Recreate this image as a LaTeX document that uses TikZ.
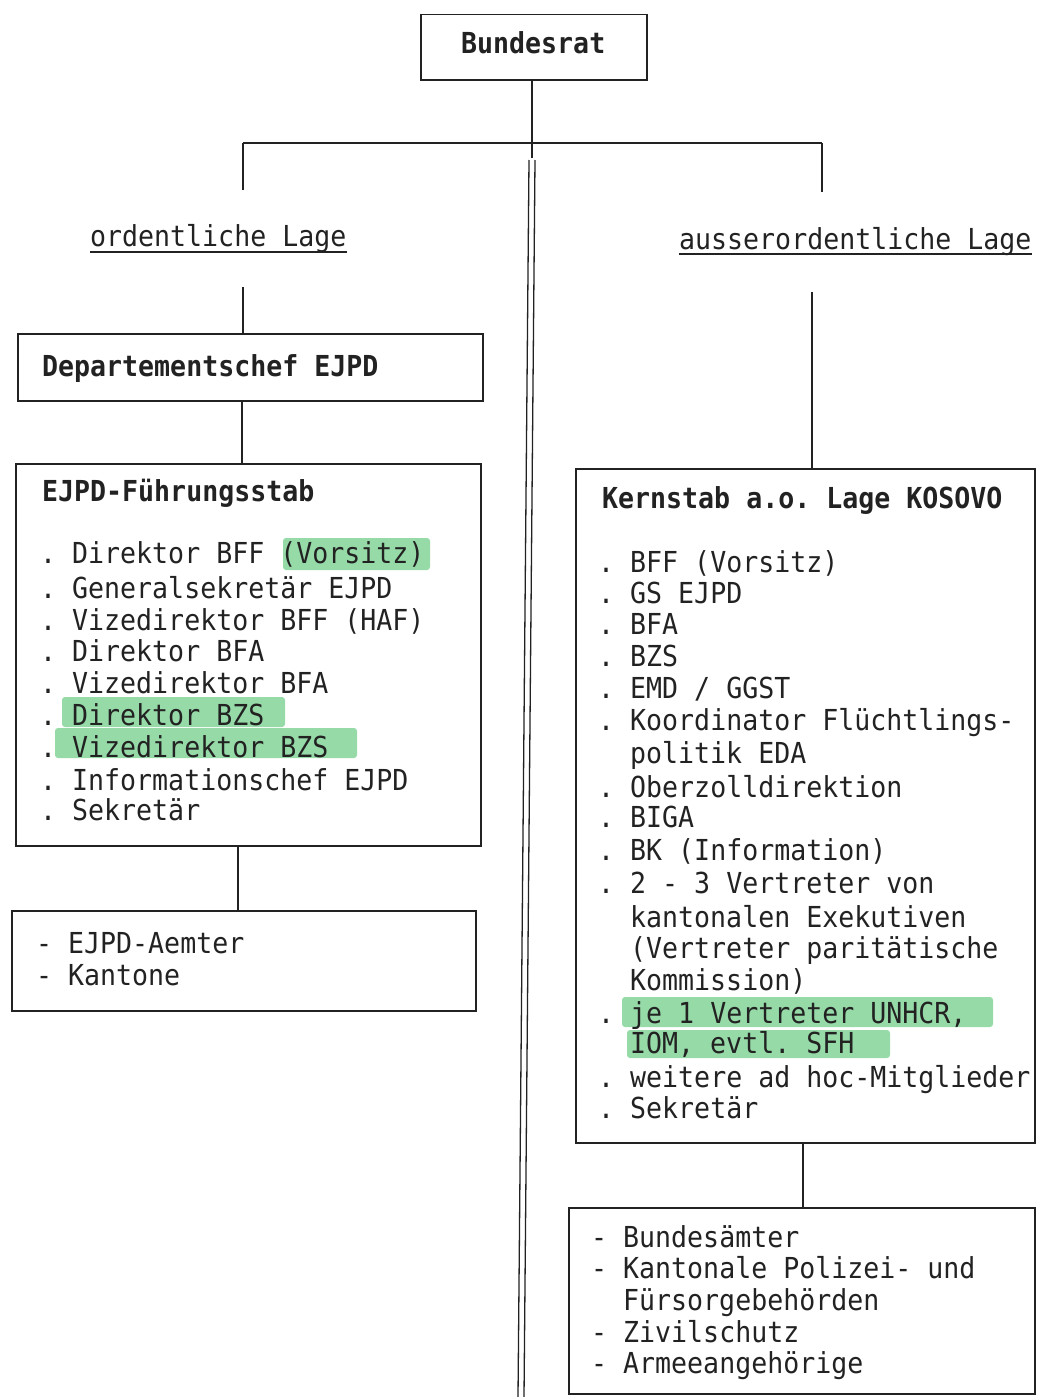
\documentclass[tikz,border=0pt]{standalone}
\usepackage{fontspec}
\setmonofont[FakeStretch=0.92]{DejaVu Sans Mono}
\usetikzlibrary{calc}
\definecolor{ink}{HTML}{222222}
\definecolor{hl}{RGB}{150,218,168}
\begin{document}
\begin{tikzpicture}[x=1pt,y=-1pt,
  box/.style={draw=ink, line width=1.5pt, rectangle, inner sep=0pt, anchor=north west},
  txt/.style={anchor=base west, inner sep=0pt, text=ink,
    font=\ttfamily\frenchspacing\fontsize{28.9}{32}\selectfont},
  ttl/.style={txt, font=\ttfamily\bfseries\frenchspacing\fontsize{28.9}{32}\selectfont},
  conn/.style={draw=ink, line width=1.5pt},
  marker/.style={fill=hl, draw=none, rounded corners=3pt}]
\useasboundingbox (0,0) rectangle (1036,1397);

% highlights
\fill[marker] (283,538) rectangle (430,570);
\fill[marker] (62,697) rectangle (285,727);
\fill[marker] (55,728) rectangle (357,758);
\fill[marker] (622,997) rectangle (993,1027);
\fill[marker] (627,1030) rectangle (890,1058);

% boxes
\node[box, minimum width=226pt, minimum height=65pt] (bund) at (420,14) {};
\node[box, minimum width=465pt, minimum height=67pt] (dep) at (17,333) {};
\node[box, minimum width=465pt, minimum height=382pt] (fst) at (15,463) {};
\node[box, minimum width=464pt, minimum height=100pt] (lb) at (11,910) {};
\node[box, minimum width=459pt, minimum height=674pt] (kern) at (575,468) {};
\node[box, minimum width=466pt, minimum height=186pt] (rb) at (568,1207) {};

% titles
\node[ttl] (bundt) at (461,54) {Bundesrat};
\node[ttl] (dept) at (42,376) {Departementschef EJPD};
\node[ttl] (fstt) at (42,501) {EJPD-Führungsstab};
\node[ttl] (kernt) at (602,508) {Kernstab a.o. Lage KOSOVO};

% labels
\node[txt] (lordl) at (90,246) {ordentliche Lage};
\node[txt] (laol) at (679,249) {ausserordentliche Lage};
\draw[conn, line width=1.3pt] ($(lordl.base west)+(0,6)$) -- ($(lordl.base east)+(0,6)$);
\draw[conn, line width=1.3pt] ($(laol.base west)+(0,5)$) -- ($(laol.base east)+(0,5)$);

% left list
\node[txt] (l1) at (40,563) {.\ Direktor BFF (Vorsitz)};
\node[txt] (l2) at (40,598) {.\ Generalsekretär EJPD};
\node[txt] (l3) at (40,630) {.\ Vizedirektor BFF (HAF)};
\node[txt] (l4) at (40,661) {.\ Direktor BFA};
\node[txt] (l5) at (40,693) {.\ Vizedirektor BFA};
\node[txt] (l6) at (40,725) {.\ Direktor BZS};
\node[txt] (l7) at (40,757) {.\ Vizedirektor BZS};
\node[txt] (l8) at (40,790) {.\ Informationschef EJPD};
\node[txt] (l9) at (40,820) {.\ Sekretär};

% bottom-left list
\node[txt] (lb1) at (36,953) {-\ EJPD-Aemter};
\node[txt] (lb2) at (36,985) {-\ Kantone};

% right list
\node[txt] (r1) at (598,572) {.\ BFF (Vorsitz)};
\node[txt] (r2) at (598,603) {.\ GS EJPD};
\node[txt] (r3) at (598,634) {.\ BFA};
\node[txt] (r4) at (598,666) {.\ BZS};
\node[txt] (r5) at (598,698) {.\ EMD / GGST};
\node[txt] (r6) at (598,730) {.\ Koordinator Flüchtlings-};
\node[txt] (r6b) at (630,763) {politik EDA};
\node[txt] (r7) at (598,797) {.\ Oberzolldirektion};
\node[txt] (r8) at (598,827) {.\ BIGA};
\node[txt] (r9) at (598,860) {.\ BK (Information)};
\node[txt] (r10) at (598,893) {.\ 2 - 3 Vertreter von};
\node[txt] (r10b) at (630,927) {kantonalen Exekutiven};
\node[txt] (r10c) at (630,958) {(Vertreter paritätische};
\node[txt] (r10d) at (630,990) {Kommission)};
\node[txt] (r11) at (598,1023) {.\ je 1 Vertreter UNHCR,};
\node[txt] (r11b) at (630,1053) {IOM, evtl. SFH};
\node[txt] (r12) at (598,1087) {.\ weitere ad hoc-Mitglieder};
\node[txt] (r13) at (598,1118) {.\ Sekretär};

% bottom-right list
\node[txt] (rb1) at (591,1247) {-\ Bundesämter};
\node[txt] (rb2) at (591,1278) {-\ Kantonale Polizei- und};
\node[txt] (rb2b) at (623,1310) {Fürsorgebehörden};
\node[txt] (rb3) at (591,1342) {-\ Zivilschutz};
\node[txt] (rb4) at (591,1373) {-\ Armeeangehörige};

% connectors
\coordinate (j) at (532,143);
\coordinate (sEnd) at (532,158);
\coordinate (hL) at (243,143);
\coordinate (hR) at (822,143);
\coordinate (dL) at (243,190);
\coordinate (dR) at (822,192);
\draw[conn] (bund.south -| j) -- (sEnd);
\draw[conn] (hL) -- (hR);
\draw[conn] (hL) -- (dL);
\draw[conn] (hR) -- (dR);
\coordinate (uL) at (243,287);
\draw[conn] (uL) -- (dep.north -| uL);
\coordinate (xL2) at (242,0);
\draw[conn] (dep.south -| xL2) -- (fst.north -| xL2);
\coordinate (xL3) at (238,0);
\draw[conn] (fst.south -| xL3) -- (lb.north -| xL3);
\coordinate (uR) at (812,292);
\draw[conn] (uR) -- (kern.north -| uR);
\coordinate (xR2) at (803,0);
\draw[conn] (kern.south -| xR2) -- (rb.north -| xR2);
% double separator
\coordinate (d1t) at (529,160);
\coordinate (d1b) at (518,1397);
\coordinate (d2t) at (535,160);
\coordinate (d2b) at (524,1397);
\draw[conn, line width=1.3pt] (d1t) -- (d1b);
\draw[conn, line width=1.3pt] (d2t) -- (d2b);
\end{tikzpicture}
\end{document}
